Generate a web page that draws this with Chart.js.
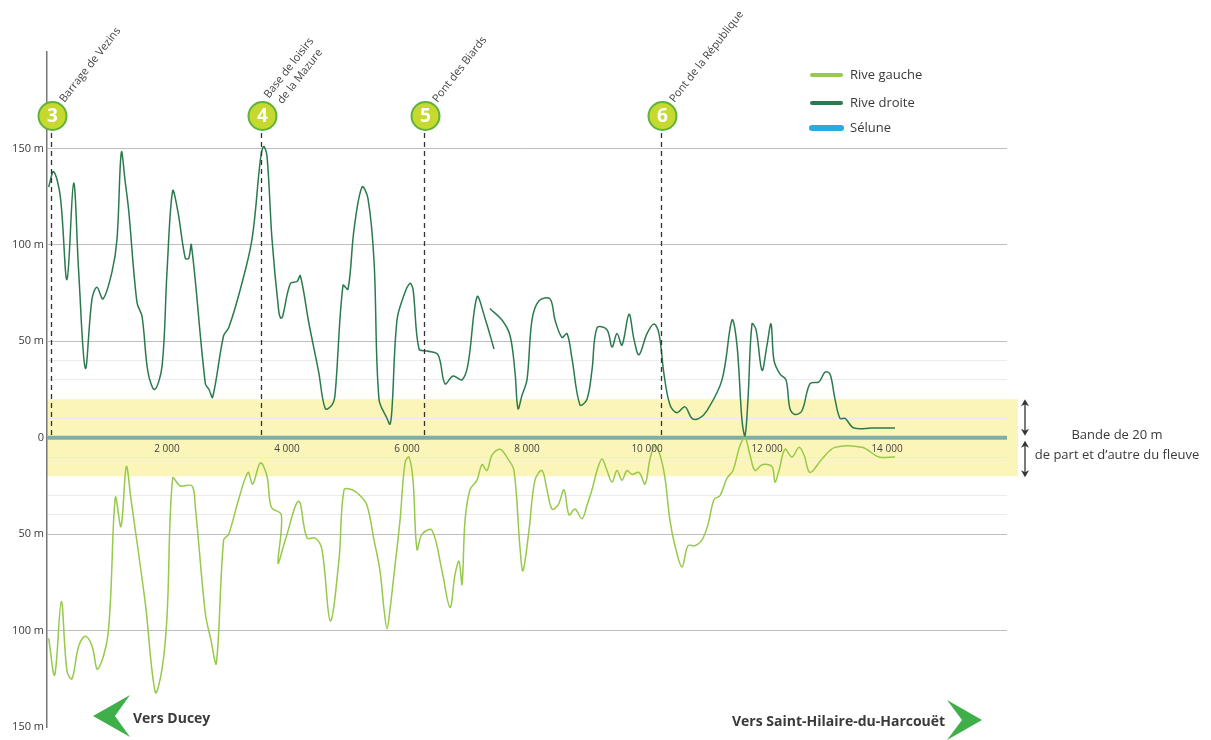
<!DOCTYPE html>
<html lang="fr">
<head>
<meta charset="utf-8">
<title>Profil de la Sélune</title>
<script src="https://cdn.jsdelivr.net/npm/chart.js@4.4.1/dist/chart.umd.min.js"></script>
<style>
  html, body { margin: 0; padding: 0; background: #fff; }
  #wrap { width: 1211px; height: 740px; }
</style>
</head>
<body>
<div id="wrap"><canvas id="profil" width="1211" height="740"></canvas></div>
<script>
// distance le long du fleuve (m) / éloignement des rives (m)
const rdX = [28, 111, 222, 333, 444, 528, 639, 750, 833, 933, 1083, 1167, 1239, 1306, 1361, 1500, 1583, 1683, 1794, 1917,
  2000, 2094, 2183, 2305, 2361, 2406, 2639, 2700, 2760, 2944, 3028, 3222, 3417, 3556, 3611, 3667, 3750, 3861, 3895, 3928,
  4056, 4167, 4222, 4361, 4528, 4639, 4750, 4800, 4933, 5017, 5117, 5250, 5350, 5450, 5533, 5667, 5717, 5750, 5833, 5950,
  6050, 6100, 6200, 6333, 6517, 6633, 6767, 6917, 7017, 7167, 7300, 7450, 7420, 7380, 7583, 7717, 7800, 7850, 7917, 8000,
  8083, 8200, 8383, 8467, 8583, 8667, 8750, 8883, 9000, 9083, 9167, 9333, 9417, 9500, 9583, 9700, 9783, 9867, 10000, 10117,
  10200, 10283, 10383, 10500, 10633, 10750, 10867, 11000, 11250, 11417, 11500, 11583, 11633, 11683, 11750, 11817, 11917, 12000, 12067, 12117,
  12217, 12317, 12383, 12467, 12583, 12717, 12867, 12967, 13050, 13133, 13217, 13300, 13450, 13750, 14133];
const rdY = [130, 138, 125, 82, 132, 86, 36, 72, 78, 72, 86, 103, 148, 132, 118, 70, 63, 34, 25, 37,
  86, 128, 117, 93, 93, 100, 28, 25, 21, 53, 57, 77, 103, 144, 151, 146, 103, 66, 62, 63,
  80, 81, 84, 60, 34, 15, 17, 22, 79, 77, 108, 130, 124, 92, 20, 10, 7, 15, 61, 74,
  80, 77, 46, 45, 43, 28, 32, 30, 38, 73, 62, 46, null, 67, 61, 53, 34, 15, 22, 30,
  61, 71, 72, 61, 52, 54, 41, 17, 20, 35, 57, 56, 47, 54, 48, 64, 51, 43, 54, 59,
  54, 33, 17, 13, 16, 10, 10, 14, 30, 61, 48, 9, 1, 20, 59, 56, 35, 48, 59, 40,
  33, 30, 15, 12, 14, 28, 29, 34, 33, 20, 10, 10, 5, 5, 5];

const rgX = [28, 128, 238, 333, 417, 528, 639, 750, 844, 1017, 1139, 1233, 1322, 1400, 1639, 1806, 1917, 2000, 2094, 2222,
  2417, 2472, 2639, 2733, 2822, 2944, 3028, 3194, 3350, 3428, 3556, 3667, 3739, 3906, 3850, 3972, 4194, 4333, 4472, 4583,
  4722, 4867, 4950, 5083, 5217, 5333, 5450, 5550, 5617, 5667, 5717, 5783, 5883, 5967, 6033, 6100, 6167, 6250, 6417, 6583,
  6717, 6800, 6867, 6917, 6967, 7050, 7167, 7250, 7333, 7417, 7550, 7683, 7783, 7883, 7933, 8033, 8133, 8250, 8333, 8417,
  8517, 8617, 8700, 8800, 8917, 9000, 9083, 9167, 9250, 9333, 9417, 9500, 9583, 9667, 9750, 9867, 9967, 10050, 10133, 10217,
  10300, 10383, 10467, 10583, 10683, 10800, 10917, 11017, 11117, 11217, 11333, 11433, 11550, 11633, 11717, 11800, 11917, 12083, 12133, 12200,
  12300, 12417, 12533, 12617, 12717, 12917, 13133, 13583, 13867, 14133];
const rgY = [-104, -123, -85, -121, -125, -108, -103, -108, -120, -102, -31, -46, -15, -32, -86, -132, -120, -93, -21, -25,
  -25, -36, -91, -105, -117, -53, -50, -32, -18, -24, -13, -20, -36, -40, -65, -53, -33, -52, -52, -58,
  -95, -63, -27, -27, -30, -35, -53, -69, -89, -99, -89, -71, -43, -13, -10, -22, -58, -50, -48, -69,
  -88, -71, -64, -76, -43, -27, -22, -14, -17, -9, -6, -11, -17, -57, -69, -48, -22, -17, -27, -37,
  -35, -27, -40, -37, -42, -35, -27, -17, -11, -17, -23, -17, -22, -17, -19, -18, -24, -11, -4, -9,
  -21, -43, -56, -67, -56, -56, -53, -45, -32, -30, -21, -17, -4, 0, -9, -17, -14, -15, -23, -17,
  -6, -10, -5, -9, -18, -11, -5, -5, -10, -10];

const seluneX = [0, 16000];
const seluneY = [0, 0];

const xTicks = [2000, 4000, 6000, 8000, 10000, 12000, 14000];
const yTickLabels = [150, 100, 50, 0, -50, -100, -150];
const yMajorLines = [150, 100, 50, -50, -100];
const yMinorLines = [40, 30, 10, -10, -30, -40];

const repereX = [70, 3570, 6275, 10233];
const repereNum = ['3', '4', '5', '6'];
const repereNom = [['Barrage de Vezins'], ['Base de loisirs', 'de la Mazure'], ['Pont des Biards'], ['Pont de la République']];

const bandeHaut = 20;
const bandeBas = -20;

const COULEURS = {
  gauche: '#97c94a',
  droite: '#2b7a4f',
  selune: '#7eafa6',
  seluneLegende: '#29abe2',
  bande: '#fbf5b9',
  texte: '#3a3a3a',
  fleche: '#3fb049',
  pastille: '#c6d92e',
  pastilleBord: '#5fb23c'
};

const POLICE = '"Open Sans", "Noto Sans", sans-serif';

function points(xs, ys) {
  return xs.map((x, i) => ({ x: x, y: ys[i] }));
}

function flecheVerticale(ctx, x, y1, y2) {
  ctx.beginPath();
  ctx.moveTo(x, y1 + 2);
  ctx.lineTo(x, y2 - 2);
  ctx.stroke();
  [[y1, 1], [y2, -1]].forEach(([y, d]) => {
    ctx.beginPath();
    ctx.moveTo(x, y);
    ctx.lineTo(x - 4, y + 7 * d);
    ctx.lineTo(x, y + 5 * d);
    ctx.lineTo(x + 4, y + 7 * d);
    ctx.closePath();
    ctx.fill();
  });
}

const decor = {
  id: 'decor',
  beforeDraw(chart) {
    const { ctx, chartArea, scales } = chart;
    const yTop = scales.y.getPixelForValue(bandeHaut);
    const yBot = scales.y.getPixelForValue(bandeBas);
    ctx.save();
    ctx.fillStyle = COULEURS.bande;
    ctx.fillRect(chartArea.left, yTop, chartArea.right - chartArea.left + 11, yBot - yTop);
    ctx.restore();
  },
  afterDraw(chart) {
    const { ctx, scales } = chart;
    const x = scales.x;
    const y = scales.y;
    const y0 = y.getPixelForValue(0);
    ctx.save();

    // graduations de distance
    ctx.fillStyle = '#444';
    ctx.font = '10px ' + POLICE;
    ctx.textAlign = 'center';
    ctx.textBaseline = 'middle';
    xTicks.forEach((v) => {
      ctx.fillText(v.toLocaleString('fr-FR').replace(/\s/g, ' '), x.getPixelForValue(v), y0 + 11);
    });

    // repères numérotés
    const ang = 52 * Math.PI / 180;
    repereX.forEach((v, i) => {
      const px = Math.round(x.getPixelForValue(v)) + 0.5;
      ctx.strokeStyle = '#333';
      ctx.lineWidth = 1.3;
      ctx.setLineDash([5, 4]);
      ctx.beginPath();
      ctx.moveTo(px, 133);
      ctx.lineTo(px, y0);
      ctx.stroke();
      ctx.setLineDash([]);

      ctx.beginPath();
      ctx.arc(px + 1, 116, 14, 0, Math.PI * 2);
      ctx.fillStyle = COULEURS.pastille;
      ctx.fill();
      ctx.lineWidth = 2;
      ctx.strokeStyle = COULEURS.pastilleBord;
      ctx.stroke();
      ctx.fillStyle = '#fff';
      ctx.font = 'bold 19px ' + POLICE;
      ctx.textAlign = 'center';
      ctx.textBaseline = 'middle';
      ctx.fillText(repereNum[i], px + 1, 117);

      ctx.save();
      ctx.translate(px + 13, 103);
      ctx.rotate(-ang);
      ctx.fillStyle = '#444';
      ctx.font = '11px ' + POLICE;
      ctx.textAlign = 'left';
      ctx.textBaseline = 'alphabetic';
      const lignes = repereNom[i];
      const w0 = ctx.measureText(lignes[0]).width;
      const d0 = -(lignes.length - 1) * 7;
      lignes.forEach((t, j) => {
        const w = ctx.measureText(t).width;
        ctx.fillText(t, (w0 - w) / 2, d0 + j * 14);
      });
      ctx.restore();
    });

    // légende
    const legende = [
      ['Rive gauche', COULEURS.gauche, 4, 75],
      ['Rive droite', COULEURS.droite, 4, 103],
      ['Sélune', COULEURS.seluneLegende, 6, 128]
    ];
    ctx.lineCap = 'round';
    legende.forEach(([nom, c, w, ly]) => {
      ctx.strokeStyle = c;
      ctx.lineWidth = w;
      ctx.beginPath();
      ctx.moveTo(812, ly);
      ctx.lineTo(841, ly);
      ctx.stroke();
      ctx.fillStyle = COULEURS.texte;
      ctx.font = '13px ' + POLICE;
      ctx.textAlign = 'left';
      ctx.textBaseline = 'middle';
      ctx.fillText(nom, 850, ly);
    });
    ctx.lineCap = 'butt';

    // bande de 20 m
    const yTop = y.getPixelForValue(bandeHaut);
    const yBot = y.getPixelForValue(bandeBas);
    ctx.strokeStyle = '#333';
    ctx.fillStyle = '#333';
    ctx.lineWidth = 1.3;
    flecheVerticale(ctx, 1025, yTop, y0 - 2);
    flecheVerticale(ctx, 1025, y0 + 3, yBot + 1);
    ctx.fillStyle = COULEURS.texte;
    ctx.font = '13px ' + POLICE;
    ctx.textAlign = 'center';
    ctx.textBaseline = 'middle';
    ctx.fillText('Bande de 20 m', 1117, 435);
    ctx.fillText('de part et d\u2019autre du fleuve', 1117, 455);

    // directions
    ctx.fillStyle = COULEURS.fleche;
    ctx.beginPath();
    ctx.moveTo(93, 716);
    ctx.lineTo(130, 695);
    ctx.lineTo(115, 716);
    ctx.lineTo(130, 737);
    ctx.closePath();
    ctx.fill();
    ctx.beginPath();
    ctx.moveTo(982, 720);
    ctx.lineTo(947, 700);
    ctx.lineTo(962, 720);
    ctx.lineTo(947, 740);
    ctx.closePath();
    ctx.fill();
    ctx.fillStyle = COULEURS.texte;
    ctx.font = 'bold 14px ' + POLICE;
    ctx.textAlign = 'left';
    ctx.textBaseline = 'middle';
    ctx.fillText('Vers Ducey', 133, 719);
    ctx.fillText('Vers Saint-Hilaire-du-Harcouët', 732, 722);

    ctx.restore();
  }
};

Chart.defaults.font.family = POLICE;
Chart.defaults.color = COULEURS.texte;

const config = {
  type: 'line',
  data: {
    datasets: [
      {
        label: 'Rive gauche',
        data: points(rgX, rgY),
        borderColor: COULEURS.gauche,
        borderWidth: 1.5,
        tension: 0.35,
        pointRadius: 0,
        order: 1
      },
      {
        label: 'Rive droite',
        data: points(rdX, rdY),
        borderColor: COULEURS.droite,
        borderWidth: 1.5,
        tension: 0.35,
        pointRadius: 0,
        order: 1
      },
      {
        label: 'Sélune',
        data: points(seluneX, seluneY),
        borderColor: COULEURS.selune,
        borderWidth: 4,
        tension: 0,
        pointRadius: 0,
        order: 3
      }
    ]
  },
  options: {
    responsive: false,
    animation: false,
    layout: { padding: { top: 52, right: 204, bottom: 13, left: 0 } },
    plugins: {
      legend: { display: false },
      title: { display: false },
      tooltip: { enabled: false }
    },
    scales: {
      x: {
        type: 'linear',
        min: 0,
        max: 16000,
        display: false
      },
      y: {
        min: -150,
        max: 200,
        afterFit: (scale) => { scale.width = 47; },
        ticks: {
          stepSize: 10,
          autoSkip: false,
          padding: 3,
          color: COULEURS.texte,
          font: { size: 11 },
          callback: (v) => {
            const r = Math.round(v);
            if (!yTickLabels.includes(r)) return '';
            return r === 0 ? '0' : Math.abs(r) + ' m';
          }
        },
        grid: {
          drawTicks: false,
          lineWidth: 1,
          color: (c) => {
            const r = Math.round(c.tick.value);
            if (yMajorLines.includes(r)) return '#bdbdbd';
            if (yMinorLines.includes(r)) return '#ebebeb';
            return 'rgba(0,0,0,0)';
          }
        },
        border: { display: true, color: '#777', width: 1.5 }
      }
    }
  },
  plugins: [decor]
};

let profil = new Chart(document.getElementById('profil'), config);
</script>
</body>
</html>
